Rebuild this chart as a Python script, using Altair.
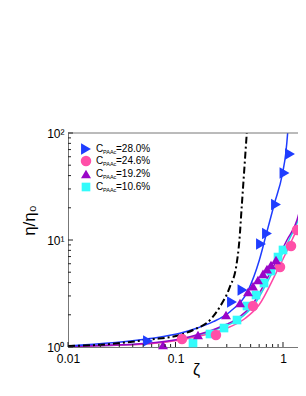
import altair as alt
import pandas as pd

# ---- fitted curves (zeta, eta/eta0) ----
black_zeta = [0.01, 0.0199, 0.0579, 0.110, 0.146, 0.217, 0.259, 0.321, 0.369, 0.392, 0.414, 0.435, 0.459, 0.47]
black_eta = [1.022, 1.05, 1.175, 1.295, 1.442, 1.855, 2.38, 3.66, 5.84, 9.64, 21.2, 43.5, 95.8, 135]

blue_line_zeta = [0.01, 0.0579, 0.110, 0.1575, 0.2247, 0.3214, 0.4756, 0.60, 0.70, 0.83, 0.99, 1.06, 1.105, 1.13]
blue_line_eta = [1.022, 1.20, 1.343, 1.495, 1.724, 2.138, 3.41, 6.4, 11.4, 21.7, 42, 64, 100, 140]

pink_line_zeta = [0.01, 0.01985, 0.0579, 0.1101, 0.169, 0.2887, 0.4432, 0.598, 0.861, 1.213, 1.518, 1.637, 1.783]
pink_line_eta = [1.011, 1.026, 1.071, 1.163, 1.267, 1.473, 1.847, 2.467, 4.91, 10.0, 17.1, 22.2, 34.0]

purple_line_zeta = [0.01, 0.01985, 0.0579, 0.1101, 0.169, 0.2594, 0.3814, 0.5148, 0.7575, 1.089, 1.35, 1.502, 1.637, 1.783]
purple_line_eta = [1.011, 1.033, 1.090, 1.188, 1.323, 1.538, 1.867, 2.467, 4.91, 10.0, 15.35, 23.6, 38.0, 69.3]

cyan_line_zeta = [0.01, 0.01985, 0.0579, 0.1101, 0.169, 0.2594, 0.398, 0.5374, 0.790, 1.137, 1.424, 1.568, 1.637, 1.783]
cyan_line_eta = [1.011, 1.028, 1.078, 1.175, 1.295, 1.504, 1.847, 2.467, 4.91, 10.0, 17.1, 26.3, 32.7, 55.9]

# ---- measured points ----
blue_zeta = [0.0555, 0.3354, 0.4201, 0.624, 0.7099, 0.861, 1.033, 1.162]
blue_eta = [1.138, 2.634, 3.41, 9.18, 11.5, 21.47, 42.3, 63.6]

pink_zeta = [0.1149, 0.2379, 0.526, 0.938, 1.187, 1.35]
pink_eta = [1.188, 1.295, 2.415, 5.60, 8.79, 12.4]

purple_zeta = [0.0765, 0.1619, 0.2951, 0.398, 0.4724, 0.526, 0.5853, 0.6516, 0.7099, 0.7735, 0.861]
purple_eta = [1.044, 1.295, 1.991, 2.577, 3.265, 3.71, 4.23, 4.82, 5.35, 5.84, 6.50]

cyan_zeta = [0.1455, 0.2094, 0.2826, 0.3734, 0.4625, 0.5609, 0.6658, 0.7735, 0.8986, 1.0]
cyan_eta = [1.090, 1.323, 1.504, 1.787, 2.415, 3.06, 3.96, 5.13, 6.93, 8.07]

# ---- legend ----
legend_values = ["=28.0%", "=24.6%", "=19.2%", "=10.6%"]
legend_shapes = ["triangle-right", "circle", "triangle-up", "square"]
legend_colors = ["#1f3dff", "#ff4fa8", "#9a06c8", "#33fbfb"]

# ---- ticks ----
x_major = [0.01, 0.1, 1]
x_minor = [0.02, 0.03, 0.04, 0.05, 0.06, 0.07, 0.08, 0.09,
           0.2, 0.3, 0.4, 0.5, 0.6, 0.7, 0.8, 0.9]
y_major = [1, 10, 100]
y_minor = [2, 3, 4, 5, 6, 7, 8, 9, 20, 30, 40, 50, 60, 70, 80, 90]

W, H = 230, 214
FONT = "Liberation Sans"
AX = "#777777"

xscale = alt.Scale(type="log", domain=[0.01, 1.379], nice=False)
yscale = alt.Scale(type="log", domain=[1, 100], nice=False)

x_enc = alt.X("zeta:Q", scale=xscale, axis=alt.Axis(
    values=x_major, labelExpr="datum.value < 0.05 ? '0.01' : (datum.value < 0.5 ? '0.1' : '1')",
    tickSize=0, domainColor=AX, grid=False, labelFont=FONT, labelFontSize=12,
    labelColor="black", labelPadding=6, labelFlush=False,
    title="ζ", titleFont=FONT, titleFontSize=16, titleFontWeight="normal",
    titleX=128, titleY=27, titleBaseline="alphabetic", titleColor="black"))

y_enc = alt.Y("eta:Q", scale=yscale, axis=alt.Axis(
    values=y_major, labelExpr="datum.value < 5 ? '10⁰' : (datum.value < 50 ? '10¹' : '10²')",
    tickSize=0, domainColor=AX, grid=False, labelFont=FONT, labelFontSize=12,
    labelColor="black", labelPadding=4, labelFlush=False, labelBaseline="middle",
    title="η/η₀", titleFont=FONT, titleFontSize=17, titleFontWeight="normal",
    titleAngle=270, titleX=-39, titleY=87, titleAlign="center", titleBaseline="middle",
    titleColor="black"))


def df(z, e):
    return pd.DataFrame({"zeta": z, "eta": e})


def line(z, e, color, width=1.5, dash=None):
    kw = dict(color=color, strokeWidth=width, clip=True, interpolate="monotone")
    if dash:
        kw["strokeDash"] = dash
    return alt.Chart(df(z, e)).mark_line(**kw).encode(x=x_enc, y=y_enc)


def pts(z, e, color, shape, size):
    return alt.Chart(df(z, e)).mark_point(shape=shape, filled=True, color=color, opacity=1,
                                          size=size).encode(x=x_enc, y=y_enc)


layers = [
    line(cyan_line_zeta, cyan_line_eta, "#22dde8"),
    line(pink_line_zeta, pink_line_eta, "#ff45a5"),
    line(purple_line_zeta, purple_line_eta, "#9606c6"),
    line(blue_line_zeta, blue_line_eta, "#1f3dff"),
    line(black_zeta, black_eta, "black", width=2, dash=[7, 3, 2, 3]),
    pts(cyan_zeta, cyan_eta, legend_colors[3], "square", 75),
    pts(pink_zeta, pink_eta, legend_colors[1], "circle", 110),
    pts(purple_zeta, purple_eta, legend_colors[2], "triangle-up", 100),
    pts(blue_zeta, blue_eta, legend_colors[0], "triangle-right", 130),
]

# frame line on top
layers.append(alt.Chart(pd.DataFrame({"eta": [100]})).mark_rule(color=AX, strokeWidth=1).encode(
    y=y_enc, x=alt.value(0), x2=alt.value(W)))

# inward ticks
layers.append(alt.Chart(pd.DataFrame({"zeta": x_major})).mark_rule(color="#222", strokeWidth=1).encode(
    x=x_enc, y=alt.value(H), y2=alt.value(H - 5)))
layers.append(alt.Chart(pd.DataFrame({"zeta": x_minor})).mark_rule(color="#222", strokeWidth=1).encode(
    x=x_enc, y=alt.value(H), y2=alt.value(H - 3)))
layers.append(alt.Chart(pd.DataFrame({"eta": y_major})).mark_rule(color="#222", strokeWidth=1).encode(
    y=y_enc, x=alt.value(0), x2=alt.value(5)))
layers.append(alt.Chart(pd.DataFrame({"eta": y_minor})).mark_rule(color="#222", strokeWidth=1).encode(
    y=y_enc, x=alt.value(0), x2=alt.value(3)))

# legend
one = pd.DataFrame({"k": [0]})
row_y = [16, 28, 41, 54]
leg_sizes = [130, 110, 100, 75]
for i in range(4):
    ry = row_y[i]
    layers.append(alt.Chart(one).mark_point(shape=legend_shapes[i], filled=True, opacity=1,
                                            color=legend_colors[i], size=leg_sizes[i]).encode(
        x=alt.value(18), y=alt.value(ry)))
    layers.append(alt.Chart(one).mark_text(text="C", font=FONT, fontSize=10, align="left",
                                           baseline="middle", color="black").encode(
        x=alt.value(28), y=alt.value(ry)))
    layers.append(alt.Chart(one).mark_text(text="PAAc", font=FONT, fontSize=5.5, align="left",
                                           baseline="middle", color="black").encode(
        x=alt.value(35), y=alt.value(ry + 3)))
    layers.append(alt.Chart(one).mark_text(text=legend_values[i], font=FONT, fontSize=10, align="left",
                                           baseline="middle", color="black").encode(
        x=alt.value(48), y=alt.value(ry)))

chart = alt.layer(*layers).properties(
    width=W, height=H,
    padding={"left": 60, "top": 125, "right": 0, "bottom": 41},
    autosize=alt.AutoSizeParams(type="none"),
).configure_view(stroke=None)

chart.save("out.html", embed_options={"renderer": "svg", "actions": False})
